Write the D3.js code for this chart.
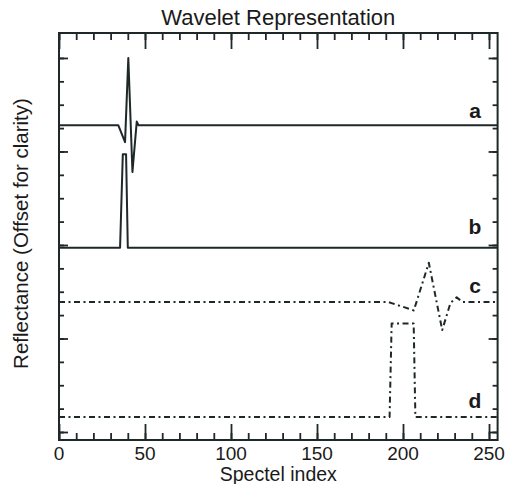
<!DOCTYPE html>
<html>
<head>
<meta charset="utf-8">
<script src="https://cdn.jsdelivr.net/npm/d3@7"></script>
<style>
  html, body { margin: 0; padding: 0; background: #fff; }
  svg { display: block; }
  text { font-family: "Liberation Sans", Arial, Helvetica, sans-serif; fill: #1a1a1a; }
</style>
</head>
<body>
<svg id="chart" width="506" height="484"></svg>
<script>
// ---- Data ----
const titleText = "Wavelet Representation";
const xLabelText = "Spectel index";
const yLabelText = "Reflectance (Offset for clarity)";

const xMajorTicks = [0, 50, 100, 150, 200, 250];
const xMinorTicks = d3.range(0, 251, 10);
const yMajorTicks = [0, 1, 2, 3, 4];
const yMinorTicks = d3.range(0, 4.01, 0.25);

const seriesNames = ["a", "b", "c", "d"];
const seriesOffsets = [3.28, 1.97, 1.39, 0.16];

// spectel index breakpoints and signal (relative to offset)
const indexA = [0, 34.5, 38.4, 40.3, 42.7, 45.2, 46.2, 255];
const signalA = [0, 0, -0.18, 0.72, -0.50, 0.04, 0, 0];

const indexB = [0, 35.5, 37.1, 39.0, 40.0, 255];
const signalB = [0, 0, 1.0, 1.0, 0, 0];

const indexC = [0, 191.5, 206.3, 215.0, 222.8, 227.6, 231.2, 234.6, 255];
const signalC = [0, 0, -0.09, 0.42, -0.30, -0.01, 0.05, 0, 0];

const indexD = [0, 192.2, 193.4, 206.2, 207.2, 255];
const signalD = [0, 0, 1.0, 1.0, 0, 0];

const seriesIndex = [indexA, indexB, indexC, indexD];
const seriesSignal = [signalA, signalB, signalC, signalD];
const seriesDashed = [false, false, true, true];

// ---- Layout ----
const svg = d3.select("#chart");
const plot = { left: 59, right: 497.6, top: 33, bottom: 440 };
const ink = "#1f2828";

const x = d3.scaleLinear().domain([0, 255]).range([plot.left, plot.right]);
const y = d3.scaleLinear().domain([-0.0856, 4.267]).range([plot.bottom, plot.top]);

// Axes (ticks inward, on all four sides)
function axisTicks(gen, ticks, len) {
  return gen.tickValues(ticks).tickSize(len).tickFormat("");
}
const gAxes = svg.append("g").attr("class", "axes");

// bottom
gAxes.append("g").attr("transform", `translate(0,${plot.bottom})`)
  .call(axisTicks(d3.axisTop(x), xMinorTicks, 7));
gAxes.append("g").attr("transform", `translate(0,${plot.bottom})`)
  .call(axisTicks(d3.axisTop(x), xMajorTicks, 16));
// top
gAxes.append("g").attr("transform", `translate(0,${plot.top})`)
  .call(axisTicks(d3.axisBottom(x), xMinorTicks, 7));
gAxes.append("g").attr("transform", `translate(0,${plot.top})`)
  .call(axisTicks(d3.axisBottom(x), xMajorTicks, 16));
// left
gAxes.append("g").attr("transform", `translate(${plot.left},0)`)
  .call(axisTicks(d3.axisRight(y), yMinorTicks, 5));
gAxes.append("g").attr("transform", `translate(${plot.left},0)`)
  .call(axisTicks(d3.axisRight(y), yMajorTicks, 9));
// right
gAxes.append("g").attr("transform", `translate(${plot.right},0)`)
  .call(axisTicks(d3.axisLeft(y), yMinorTicks, 5));
gAxes.append("g").attr("transform", `translate(${plot.right},0)`)
  .call(axisTicks(d3.axisLeft(y), yMajorTicks, 9));

gAxes.selectAll(".domain").remove();
gAxes.selectAll(".tick line").attr("stroke", ink).attr("stroke-width", 1.8);

// x tick labels
svg.append("g").selectAll("text").data(xMajorTicks).join("text")
  .attr("x", d => x(d)).attr("y", 460)
  .attr("text-anchor", "middle")
  .attr("font-size", 19)
  .text(d => d);

// frame
svg.append("rect")
  .attr("x", plot.left).attr("y", plot.top)
  .attr("width", plot.right - plot.left).attr("height", plot.bottom - plot.top)
  .attr("fill", "none").attr("stroke", ink).attr("stroke-width", 2);

// lines
const line = d3.line().x(d => x(d[0])).y(d => y(d[1]));
const gLines = svg.append("g");
seriesNames.forEach((name, i) => {
  const pts = seriesIndex[i].map((xi, k) => [xi, seriesOffsets[i] + seriesSignal[i][k]]);
  gLines.append("path")
    .datum(pts)
    .attr("d", line)
    .attr("fill", "none")
    .attr("stroke", ink)
    .attr("stroke-width", 2)
    .attr("stroke-linejoin", "round")
    .attr("stroke-dasharray", seriesDashed[i] ? "6,3.5,2,3.5" : null);
});

// series labels
const labelBaselineOffset = [0.075, 0.145, 0.1, 0.1];
svg.append("g").selectAll("text").data(seriesNames).join("text")
  .attr("x", 475)
  .attr("y", (d, i) => y(seriesOffsets[i] + labelBaselineOffset[i]))
  .attr("text-anchor", "middle")
  .attr("font-size", 21)
  .attr("font-weight", "bold")
  .text(d => d);

// title
svg.append("text")
  .attr("x", (plot.left + plot.right) / 2).attr("y", 25)
  .attr("text-anchor", "middle")
  .attr("font-size", 22)
  .text(titleText);

// x label
svg.append("text")
  .attr("x", (plot.left + plot.right) / 2).attr("y", 481)
  .attr("text-anchor", "middle")
  .attr("font-size", 19.5)
  .text(xLabelText);

// y label
svg.append("text")
  .attr("transform", `translate(28,${(plot.top + plot.bottom) / 2 - 3}) rotate(-90)`)
  .attr("text-anchor", "middle")
  .attr("font-size", 20.5)
  .text(yLabelText);
</script>
</body>
</html>
